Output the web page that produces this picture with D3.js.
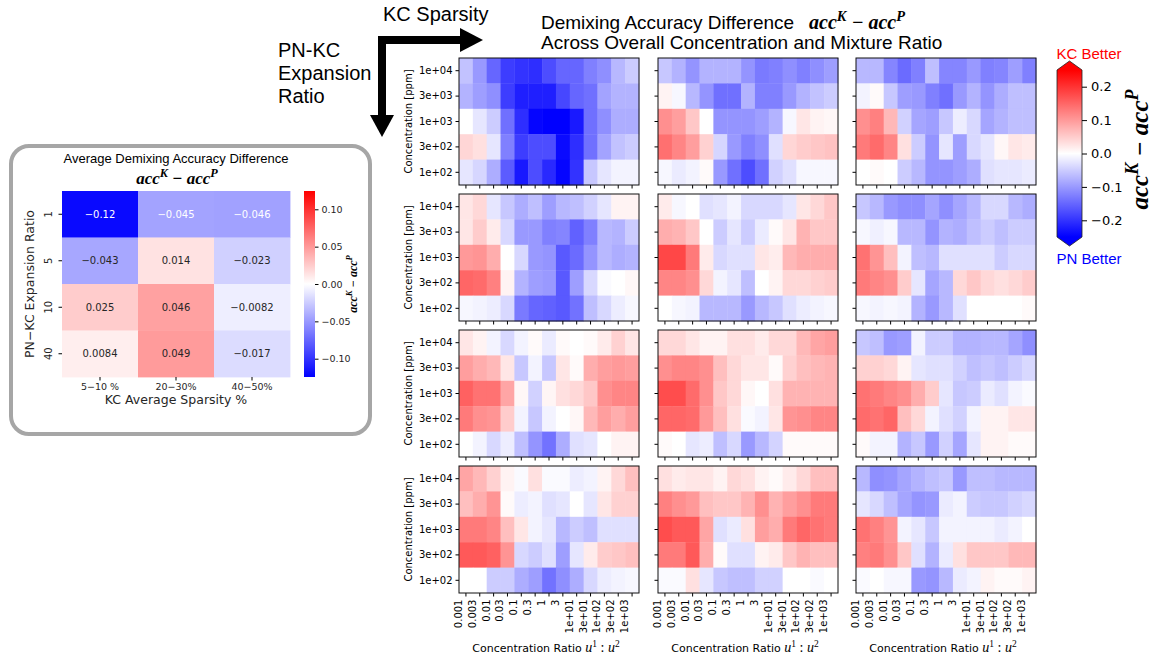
<!DOCTYPE html>
<html><head><meta charset="utf-8">
<script src="https://cdn.jsdelivr.net/npm/d3@7"></script>
<style>body{margin:0;background:#fff}svg{display:block}</style>
</head><body>
<svg id="c" width="1156" height="658"></svg>
<script>
// ---------- data ----------
const concRatioTicks = ["0.001","0.003","0.01","0.03","0.1","0.3","1","3","1e+01","3e+01","1e+02","3e+02","1e+03"];
const concTicks = ["1e+04","3e+03","1e+03","3e+02","1e+02"];
const sparsityLabels = ["5−10 %","20−30%","40−50%"];
const expansionLabels = ["1","5","10","40"];
const avgDiff = [
  [-0.12, -0.045, -0.046],
  [-0.043, 0.014, -0.023],
  [0.025, 0.046, -0.0082],
  [0.0084, 0.049, -0.017]
];
const avgCbarTicks = [0.10, 0.05, 0.00, -0.05, -0.10];
const cbarTicks = [0.2, 0.1, 0.0, -0.1, -0.2];

// expansion 1
const grid_e1_s1 = [
  [-0.06,-0.10,-0.15,-0.19,-0.20,-0.205,-0.175,-0.15,-0.15,-0.125,-0.11,-0.07,-0.05],
  [-0.075,-0.095,-0.11,-0.19,-0.22,-0.22,-0.22,-0.18,-0.15,-0.14,-0.09,-0.075,-0.075],
  [0,-0.025,-0.05,-0.14,-0.205,-0.245,-0.25,-0.25,-0.225,-0.14,-0.11,-0.08,-0.08],
  [0.04,0.03,-0.025,-0.125,-0.19,-0.175,-0.175,-0.24,-0.205,-0.14,-0.09,-0.06,-0.05],
  [-0.025,-0.04,-0.08,-0.16,-0.225,-0.175,-0.21,-0.245,-0.2,-0.055,-0.025,-0.012,-0.012]
];
const grid_e1_s2 = [
  [-0.055,-0.075,-0.105,-0.075,-0.075,-0.075,-0.105,-0.13,-0.125,-0.11,-0.125,-0.11,-0.095],
  [0.012,-0.008,-0.07,-0.105,-0.14,-0.14,-0.075,-0.125,-0.125,-0.1,-0.075,-0.06,-0.05],
  [0.11,0.095,0.055,0,-0.105,-0.105,-0.105,-0.095,-0.075,-0.008,0.025,0.012,0.008],
  [0.14,0.12,0.095,0.045,-0.04,-0.1,-0.125,-0.11,-0.03,0.04,0.05,0.055,0.06],
  [-0.008,-0.02,-0.012,0.005,-0.1,-0.14,-0.175,-0.14,-0.045,-0.03,-0.008,-0.008,-0.008]
];
const grid_e1_s3 = [
  [-0.07,-0.07,-0.12,-0.145,-0.125,-0.063,-0.12,-0.12,-0.1,-0.125,-0.12,-0.095,-0.125],
  [-0.012,0.005,-0.055,-0.095,-0.1,-0.125,-0.14,-0.1,-0.075,-0.105,-0.08,-0.063,-0.063],
  [0.11,0.125,0.07,-0.045,-0.088,-0.095,-0.055,-0.018,-0.038,-0.088,-0.075,-0.063,-0.063],
  [0.13,0.145,0.12,0.03,-0.05,-0.105,-0.025,-0.095,-0.038,-0.025,0.008,0.025,0.02],
  [0,0.005,0,-0.05,-0.07,-0.105,-0.105,-0.095,-0.08,-0.03,-0.025,-0.025,-0.02]
];
// expansion 5
const grid_e5_s1 = [
  [0.025,0.038,-0.025,-0.055,-0.08,-0.063,-0.095,-0.07,-0.063,-0.045,-0.025,0.012,0.012],
  [0.025,0.05,0.02,-0.038,-0.1,-0.1,-0.125,-0.12,-0.155,-0.125,-0.07,-0.075,-0.05],
  [0.1,0.105,0.08,0,-0.038,-0.1,-0.105,-0.163,-0.145,-0.105,-0.07,-0.08,-0.075],
  [0.15,0.145,0.125,0.012,-0.075,-0.095,-0.1,-0.163,-0.095,-0.038,-0.005,0,0.008],
  [-0.008,-0.012,-0.018,-0.038,-0.13,-0.15,-0.155,-0.163,-0.138,-0.063,-0.038,-0.018,-0.008]
];
const grid_e5_s2 = [
  [0.02,-0.008,0,-0.03,-0.025,-0.012,-0.038,-0.038,-0.038,-0.025,0.025,0.038,0.055],
  [0.08,0.075,0.055,0,-0.05,-0.025,-0.05,-0.02,0.005,0.025,0.075,0.055,0.055],
  [0.18,0.18,0.13,0.02,-0.038,-0.03,-0.03,0.025,0.018,0.07,0.08,0.08,0.08],
  [0.12,0.12,0.11,0.038,-0.012,-0.025,-0.063,0,0.012,0.038,0.038,0.045,0.05],
  [0,-0.008,-0.012,-0.07,-0.07,-0.07,-0.1,-0.07,-0.055,-0.03,-0.018,-0.012,-0.008]
];
const grid_e5_s3 = [
  [-0.055,-0.07,-0.1,-0.11,-0.11,-0.088,-0.11,-0.088,-0.07,-0.038,-0.038,-0.07,-0.08],
  [-0.008,-0.015,-0.008,-0.07,-0.07,-0.105,-0.075,-0.08,-0.063,-0.05,-0.063,-0.05,-0.05],
  [0.138,0.105,0.063,-0.012,-0.063,-0.07,-0.03,-0.03,-0.03,-0.03,-0.05,-0.038,-0.038],
  [0.13,0.12,0.11,0.05,-0.025,-0.088,-0.07,0.038,0.055,0.038,0.03,0.038,0.05],
  [-0.008,-0.012,-0.008,-0.012,-0.075,-0.1,-0.07,-0.03,0,0,0,0,0.005]
];
// expansion 10
const grid_e10_s1 = [
  [0.025,0.012,-0.012,-0.038,-0.012,0.005,-0.02,0.005,0,0.005,0.02,0.045,0.025],
  [0.095,0.08,0.07,0.025,-0.055,-0.012,-0.055,0.025,0.005,0.08,0.095,0.1,0.095],
  [0.155,0.138,0.138,0.088,0.008,-0.045,0.01,0.03,0.038,0.055,0.11,0.12,0.12],
  [0.13,0.11,0.105,0.05,-0.012,-0.055,-0.012,0,0.008,0.07,0.095,0.08,0.095],
  [0,-0.012,-0.038,-0.018,-0.063,-0.105,-0.138,-0.08,-0.03,-0.025,0,0.012,0.012]
];
const grid_e10_s2 = [
  [0.038,0.038,0.025,0.012,0.012,0.03,0.03,0.02,0.038,0.038,0.07,0.088,0.095],
  [0.11,0.12,0.12,0.11,0.063,0.038,0.025,0.025,0.005,0.045,0.063,0.07,0.075],
  [0.175,0.175,0.145,0.11,0.055,0.038,0.008,0,0.03,0.075,0.075,0.075,0.075],
  [0.15,0.15,0.145,0.1,0.063,0.03,-0.005,-0.012,0.025,0.105,0.11,0.12,0.12],
  [0.005,0,-0.025,-0.018,-0.063,-0.038,-0.1,-0.07,-0.043,0.005,0.005,0.005,0.005]
];
const grid_e10_s3 = [
  [-0.055,-0.063,-0.1,-0.095,-0.012,-0.05,-0.05,-0.075,-0.075,-0.07,-0.07,-0.088,-0.11],
  [0.045,0.045,0.038,0.012,-0.025,-0.03,-0.03,-0.045,-0.063,-0.055,-0.063,-0.05,-0.038],
  [0.138,0.13,0.12,0.11,0.08,0.05,-0.025,-0.055,-0.05,-0.02,-0.03,-0.012,-0.005],
  [0.145,0.138,0.15,0.063,0.038,-0.012,-0.03,-0.045,-0.012,0.012,0.012,0.025,0.025],
  [0.005,-0.012,-0.012,-0.075,-0.055,-0.1,-0.045,-0.088,-0.025,0.012,0.012,0.005,0.005]
];
// expansion 40
const grid_e40_s1 = [
  [0.088,0.07,0.045,0.012,-0.005,0.03,-0.005,-0.005,-0.018,-0.012,0.012,0.038,0.063],
  [0.063,0.08,0.105,0.005,-0.018,-0.012,-0.03,-0.025,0,-0.025,0.025,0.045,0.045],
  [0.13,0.13,0.12,0.063,0.025,-0.012,-0.025,-0.07,-0.05,-0.063,-0.03,-0.03,-0.03],
  [0.163,0.163,0.155,0.105,-0.038,-0.05,-0.03,-0.095,-0.025,0.02,0.05,0.055,0.063],
  [0,0,-0.05,-0.05,-0.08,-0.095,-0.138,-0.11,-0.08,-0.038,-0.018,-0.012,-0.008]
];
const grid_e40_s2 = [
  [0.03,0.02,0.025,0.025,0.012,0.038,0.03,0.012,0.005,0.02,0.038,0.063,0.063],
  [0.125,0.11,0.1,0.063,0.055,0.055,0.075,0.11,0.075,0.095,0.11,0.13,0.13],
  [0.175,0.163,0.163,0.088,-0.03,-0.02,0.03,0.095,0.08,0.13,0.15,0.138,0.13],
  [0.13,0.13,0.163,0.08,0.005,-0.03,-0.03,0.012,0.02,0.055,0.075,0.063,0.063],
  [-0.005,-0.005,0.03,-0.025,-0.055,-0.063,-0.063,-0.045,-0.045,0,0,-0.005,0]
];
const grid_e40_s3 = [
  [-0.07,-0.11,-0.105,-0.088,-0.075,-0.063,-0.055,-0.1,-0.063,-0.063,-0.07,-0.07,-0.07],
  [-0.025,-0.038,-0.063,-0.088,-0.105,-0.1,-0.02,-0.012,-0.05,-0.055,-0.055,-0.045,-0.038],
  [0.138,0.125,0.105,-0.012,-0.025,-0.055,-0.012,-0.012,-0.012,-0.012,-0.02,-0.012,0],
  [0.125,0.13,0.11,0.055,-0.03,-0.075,-0.02,0.03,0.055,0.055,0.055,0.07,0.07],
  [-0.005,0,-0.008,-0.008,-0.1,-0.105,-0.07,-0.02,-0.012,0.012,0.005,0.005,0.012]
];
const gridPanels = [
  [grid_e1_s1, grid_e1_s2, grid_e1_s3],
  [grid_e5_s1, grid_e5_s2, grid_e5_s3],
  [grid_e10_s1, grid_e10_s2, grid_e10_s3],
  [grid_e40_s1, grid_e40_s2, grid_e40_s3]
];

// ---------- drawing ----------
const svg = d3.select("#c");
const SANS = "'DejaVu Sans', sans-serif";
const ARIAL = "'Liberation Sans', Arial, sans-serif";
const SERIF = "'Liberation Serif','DejaVu Serif', serif";

function bwr(lim) {
  return d3.scaleLinear().domain([-lim, 0, lim]).range(["#0000ff", "#ffffff", "#ff0000"]).clamp(true);
}
function accText(sel, size) {
  sel.attr("font-family", SERIF).attr("font-style", "italic").attr("font-weight", "bold").attr("font-size", size);
  sel.append("tspan").text("acc");
  sel.append("tspan").attr("dy", -0.4 * size).attr("font-size", size * 0.72).text("K");
  sel.append("tspan").attr("dy", 0.4 * size).text(" − acc");
  sel.append("tspan").attr("dy", -0.4 * size).attr("font-size", size * 0.72).text("P");
}

// ----- header -----
svg.append("text").attr("x", 383).attr("y", 21).attr("font-family", ARIAL).attr("font-size", 20).text("KC Sparsity");
["PN-KC", "Expansion", "Ratio"].forEach((t, i) =>
  svg.append("text").attr("x", 278).attr("y", 57 + i * 23).attr("font-family", ARIAL).attr("font-size", 20).text(t));
svg.append("path").attr("d", "M382,40 L463,40 M382,36 L382,118").attr("stroke", "#000").attr("stroke-width", 8).attr("fill", "none");
svg.append("path").attr("d", "M460,28 L483,40 L460,52 Z").attr("fill", "#000");
svg.append("path").attr("d", "M370,115 L394,115 L382,137 Z").attr("fill", "#000");
svg.append("text").attr("x", 541).attr("y", 29).attr("font-family", ARIAL).attr("font-size", 19).text("Demixing Accuracy Difference");
accText(svg.append("text").attr("x", 809).attr("y", 29), 20);
svg.append("text").attr("x", 541).attr("y", 49).attr("font-family", ARIAL).attr("font-size", 19).text("Across Overall Concentration and Mixture Ratio");

// ----- grid of heatmaps -----
const gridColor = bwr(0.25);
const px0 = [459, 658, 856], pw = 180;
const py0 = [58, 194, 330, 466], ph = 127;
gridPanels.forEach((rowPanels, ri) => {
  rowPanels.forEach((vals, ci) => {
    const g = svg.append("g").attr("transform", `translate(${px0[ci]},${py0[ri]})`);
    const x = d3.scaleBand().domain(concRatioTicks).range([0, pw]);
    const y = d3.scaleBand().domain(concTicks).range([0, ph]);
    vals.forEach((row, r) => row.forEach((v, c) => {
      g.append("rect").attr("x", x(concRatioTicks[c])).attr("y", y(concTicks[r]))
        .attr("width", x.bandwidth() + 0.4).attr("height", y.bandwidth() + 0.4).attr("fill", gridColor(v));
    }));
    const ya = g.append("g").call(d3.axisLeft(y).tickSize(3.5).tickPadding(3).tickFormat(ci === 0 ? d => d : () => ""));
    ya.select(".domain").remove();
    ya.selectAll("text").attr("font-family", SANS).attr("font-size", 10).attr("fill", "#000");
    const xa = g.append("g").attr("transform", `translate(0,${ph})`)
      .call(d3.axisBottom(x).tickSize(3.5).tickPadding(3).tickFormat(ri === 3 ? d => d : () => ""));
    xa.select(".domain").remove();
    xa.selectAll("text").attr("font-family", SANS).attr("font-size", 10).attr("fill", "#000")
      .attr("transform", "rotate(-90)").attr("text-anchor", "end").attr("dx", "-6.5").attr("dy", "-0.4em").attr("y", 0).attr("x", -0);
    g.append("rect").attr("width", pw).attr("height", ph).attr("fill", "none").attr("stroke", "#111").attr("stroke-width", 1);
    if (ci === 0) {
      svg.append("text").attr("transform", `translate(${412},${py0[ri] + ph / 2}) rotate(-90)`)
        .attr("text-anchor", "middle").attr("font-family", SANS).attr("font-size", 10).text("Concentration [ppm]");
    }
    if (ri === 3) {
      const t = svg.append("text").attr("x", px0[ci] + pw / 2 - 3).attr("y", 652).attr("text-anchor", "middle")
        .attr("font-family", SANS).attr("font-size", 11);
      t.append("tspan").text("Concentration Ratio  ");
      t.append("tspan").attr("font-family", SERIF).attr("font-style", "italic").attr("font-size", 14).text("u");
      t.append("tspan").attr("font-family", SERIF).attr("font-size", 9.5).attr("dy", -5).text("1");
      t.append("tspan").attr("font-family", SERIF).attr("font-size", 14).attr("dy", 5).text(" : ");
      t.append("tspan").attr("font-family", SERIF).attr("font-style", "italic").attr("font-size", 14).text("u");
      t.append("tspan").attr("font-family", SERIF).attr("font-size", 9.5).attr("dy", -5).text("2");
    }
  });
});

// ----- main colorbar -----
const defs = svg.append("defs");
function gradient(id, scale, lim) {
  const gr = defs.append("linearGradient").attr("id", id).attr("x1", 0).attr("y1", 1).attr("x2", 0).attr("y2", 0);
  d3.range(0, 1.0001, 0.05).forEach(t => gr.append("stop").attr("offset", t).attr("stop-color", scale(-lim + 2 * lim * t)));
}
gradient("gmain", gridColor, 0.25);
const cbX = 1057, cbW = 25, cbTop = 70, cbBot = 237;
const cbY = d3.scaleLinear().domain([-0.25, 0.25]).range([cbBot, cbTop]);
svg.append("rect").attr("x", cbX).attr("y", cbTop).attr("width", cbW).attr("height", cbBot - cbTop).attr("fill", "url(#gmain)");
svg.append("path").attr("d", `M${cbX},${cbTop} L${cbX + cbW / 2},${cbTop - 9} L${cbX + cbW},${cbTop} Z`).attr("fill", "#ff0000");
svg.append("path").attr("d", `M${cbX},${cbBot} L${cbX + cbW / 2},${cbBot + 9} L${cbX + cbW},${cbBot} Z`).attr("fill", "#0000ff");
svg.append("path").attr("d", `M${cbX},${cbTop} L${cbX + cbW / 2},${cbTop - 9} L${cbX + cbW},${cbTop} L${cbX + cbW},${cbBot} L${cbX + cbW / 2},${cbBot + 9} L${cbX},${cbBot} Z`)
  .attr("fill", "none").attr("stroke", "#222").attr("stroke-width", 0.8);
const cba = svg.append("g").attr("transform", `translate(${cbX + cbW},0)`)
  .call(d3.axisRight(cbY).tickValues(cbarTicks).tickSize(5).tickPadding(4).tickFormat(d3.format(".1f")));
cba.select(".domain").remove();
cba.selectAll("text").attr("font-family", SANS).attr("font-size", 13).attr("fill", "#000");
svg.append("text").attr("x", 1089).attr("y", 59).attr("text-anchor", "middle").attr("fill", "#ff0000")
  .attr("font-family", ARIAL).attr("font-size", 15).text("KC Better");
svg.append("text").attr("x", 1089).attr("y", 264).attr("text-anchor", "middle").attr("fill", "#0000ff")
  .attr("font-family", ARIAL).attr("font-size", 15).text("PN Better");
accText(svg.append("text").attr("transform", `translate(1148,${(cbTop + cbBot) / 2 - 4}) rotate(-90)`).attr("text-anchor", "middle"), 25);

// ----- left summary panel -----
svg.append("rect").attr("x", 11).attr("y", 146).attr("width", 359).attr("height", 288).attr("rx", 18)
  .attr("fill", "#fff").attr("stroke", "#a6a6a6").attr("stroke-width", 4);
svg.append("text").attr("x", 176).attr("y", 163).attr("text-anchor", "middle").attr("font-family", ARIAL).attr("font-size", 13)
  .text("Average Demixing Accuracy Difference");
accText(svg.append("text").attr("x", 177).attr("y", 184).attr("text-anchor", "middle"), 17);

const avgColor = bwr(0.1245);
const hx = d3.scaleBand().domain(sparsityLabels).range([62, 290]);
const hy = d3.scaleBand().domain(expansionLabels).range([191, 377]);
const fmt = d3.format(".2g");
avgDiff.forEach((row, r) => row.forEach((v, c) => {
  const col = avgColor(v);
  svg.append("rect").attr("x", hx(sparsityLabels[c])).attr("y", hy(expansionLabels[r]))
    .attr("width", hx.bandwidth() + 0.4).attr("height", hy.bandwidth() + 0.4).attr("fill", col);
  const rgb = d3.rgb(col);
  const lin = ch => { ch /= 255; return ch <= 0.03928 ? ch / 12.92 : Math.pow((ch + 0.055) / 1.055, 2.4); };
  const lum = 0.2126 * lin(rgb.r) + 0.7152 * lin(rgb.g) + 0.0722 * lin(rgb.b);
  svg.append("text").attr("x", hx(sparsityLabels[c]) + hx.bandwidth() / 2).attr("y", hy(expansionLabels[r]) + hy.bandwidth() / 2 + 3.5)
    .attr("text-anchor", "middle").attr("font-family", SANS).attr("font-size", 10)
    .attr("fill", lum < 0.42 ? "#ffffff" : "#262626").text(fmt(v));
}));
const hya = svg.append("g").attr("transform", "translate(62,0)").call(d3.axisLeft(hy).tickSize(3.5).tickPadding(3));
hya.select(".domain").remove();
hya.selectAll(".tick").attr("transform", d => `translate(0,${hy(d) + hy.bandwidth() / 2})`);
hya.selectAll(".tick text").attr("font-family", SANS).attr("font-size", 10).attr("fill", "#262626")
  .attr("text-anchor", "middle").attr("x", 0).attr("y", -10).attr("dy", 0).attr("transform", "rotate(-90)");
const hxa = svg.append("g").attr("transform", "translate(0,377)").call(d3.axisBottom(hx).tickSize(3.5).tickPadding(3));
hxa.select(".domain").remove();
hxa.selectAll("text").attr("font-family", SANS).attr("font-size", 9.5).attr("fill", "#262626");
svg.append("text").attr("x", 176).attr("y", 404).attr("text-anchor", "middle").attr("font-family", SANS).attr("font-size", 12.5)
  .attr("fill", "#262626").text("KC Average Sparsity %");
svg.append("text").attr("transform", "translate(34,284) rotate(-90)").attr("text-anchor", "middle").attr("font-family", SANS)
  .attr("font-size", 12.5).attr("fill", "#262626").text("PN−KC Expansion Ratio");

gradient("gavg", avgColor, 0.1245);
const acY = d3.scaleLinear().domain([-0.1245, 0.1245]).range([377, 191]);
svg.append("rect").attr("x", 304).attr("y", 191).attr("width", 11).attr("height", 186).attr("fill", "url(#gavg)");
const aca = svg.append("g").attr("transform", "translate(315,0)")
  .call(d3.axisRight(acY).tickValues(avgCbarTicks).tickSize(3.5).tickPadding(3).tickFormat(d3.format(".2f")));
aca.select(".domain").remove();
aca.selectAll("text").attr("font-family", SANS).attr("font-size", 9.5).attr("fill", "#262626");
accText(svg.append("text").attr("transform", "translate(357,284) rotate(-90)").attr("text-anchor", "middle"), 12);
</script>
</body></html>
